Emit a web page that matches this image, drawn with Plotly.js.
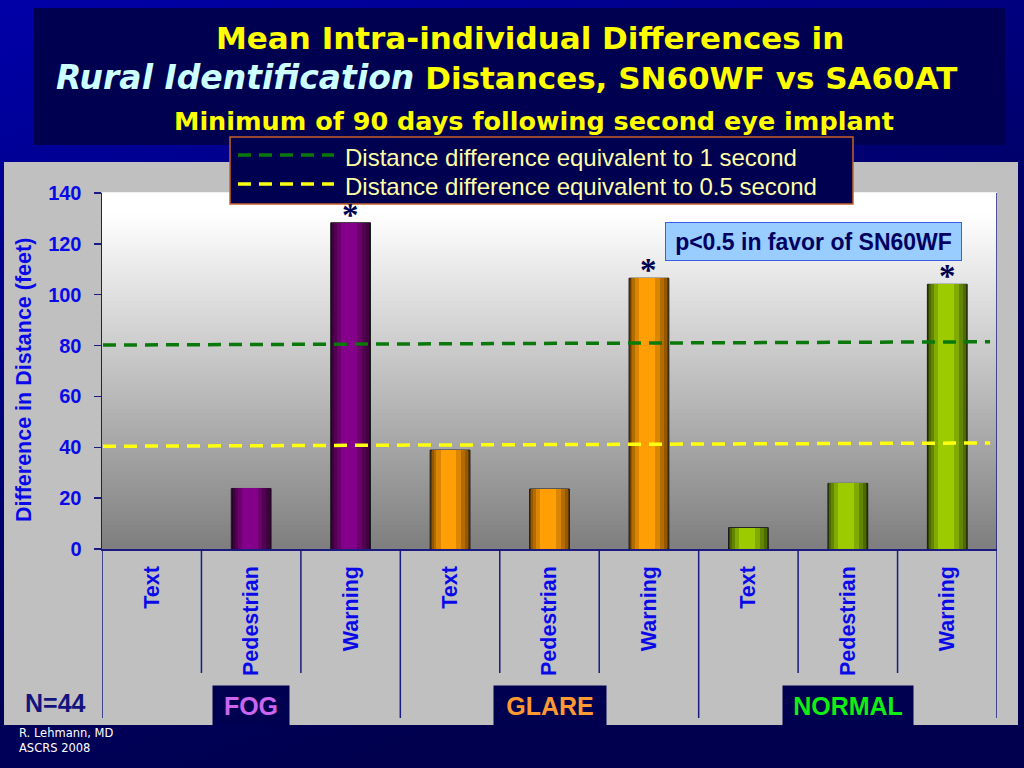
<!DOCTYPE html>
<html>
<head>
<meta charset="utf-8">
<script src="https://cdn.plot.ly/plotly-3.0.1.min.js"></script>
<style>
  html, body { margin: 0; padding: 0; }
  body { width: 1024px; height: 768px; overflow: hidden;
         background: linear-gradient(160deg, #0000a8 0%, #00008a 25%, #000060 55%, #00004e 80%); }
  #chart { width: 1024px; height: 768px; }
</style>
</head>
<body>
<div id="chart"></div>
<script>
// ---------------- data ----------------
const conditions = ['FOG', 'GLARE', 'NORMAL'];
const targets = ['Text', 'Pedestrian', 'Warning'];
const fogValues = [0, 23.8, 128.3];
const glareValues = [38.9, 23.6, 106.5];
const normalValues = [8.4, 25.8, 104.1];
const significantTargets = ['Warning'];          // marked with *
const oneSecondLine = [80.2, 81.5];               // start, end of the dashed reference
const halfSecondLine = [40.4, 41.7];
const lineNames = ['Distance difference equivalent to 1 second',
                   'Distance difference equivalent to 0.5 second'];
const yTitle = 'Difference in Distance (feet)';
const sampleSize = 'N=44';
const pNote = 'p&lt;0.5 in favor of SN60WF';
const credits = ['R. Lehmann, MD', 'ASCRS 2008'];

// ---------------- styling ----------------
const conditionColors = {
  FOG:    { edge: '#2a002a', mid: '#5c005c', bright: '#84008a', label: '#cc66ee' },
  GLARE:  { edge: '#6a3e00', mid: '#c47800', bright: '#ff9e05', label: '#ff9933' },
  NORMAL: { edge: '#324600', mid: '#6f9600', bright: '#9ccc00', label: '#11ee11' }
};
const lineColors = ['#0a780a', '#ffff10'];
const DASH = '13px,8px';
const AXIS = '#1a1a80';
const TICKBLUE = '#0a0ae8';
const SANS = 'Liberation Sans, Arial, sans-serif';
const TITLEFONT = 'DejaVu Sans, sans-serif';

// plot-area pixel frame (for decorations in paper units)
const PL = 102, PR = 997, PT = 193, PB = 549;
const X = px => (px - PL) / (PR - PL);
const Y = py => (PB - py) / (PB - PT);

// flatten the grouped data
const valuesByCond = [fogValues, glareValues, normalValues];
const xIdx = [], yVal = [], condOf = [], labels = [];
conditions.forEach((c, ci) => targets.forEach((t, ti) => {
  xIdx.push(ci * targets.length + ti);
  yVal.push(valuesByCond[ci][ti]);
  condOf.push(c);
  labels.push(t);
}));

function mix(a, b, t) {
  const pa = [1,3,5].map(i => parseInt(a.substr(i,2),16));
  const pb = [1,3,5].map(i => parseInt(b.substr(i,2),16));
  return 'rgb(' + pa.map((v,i) => Math.round(v + (pb[i]-v)*t)).join(',') + ')';
}

// cylinder-like shading: overlaid narrower bars
const layers = [
  { w: 0.40, shift: 0,     t: 0.0 },
  { w: 0.37, shift: 0,     t: 0.45 },
  { w: 0.32, shift: 0.006, t: 0.8 },
  { w: 0.25, shift: 0.012, t: 1.15 },
  { w: 0.16, shift: 0.016, t: 1.4 }
];
const traces = [];
layers.forEach((L, li) => {
  traces.push({
    type: 'bar',
    x: xIdx, y: yVal,
    width: xIdx.map(() => L.w),
    offset: xIdx.map(() => -L.w / 2 - L.shift),
    marker: {
      color: condOf.map(c => {
        const cc = conditionColors[c];
        return L.t <= 1 ? mix(cc.edge, cc.mid, L.t) : mix(cc.mid, cc.bright, (L.t - 1) / 0.4);
      }),
      line: li === 0 ? { color: '#1a1a1a', width: yVal.map(v => v > 0 ? 1 : 0) } : { width: 0 }
    },
    showlegend: false, hoverinfo: li === 0 ? 'x+y' : 'skip'
  });
});

const nCat = xIdx.length;
[oneSecondLine, halfSecondLine].forEach((ln, i) => {
  traces.push({
    type: 'scatter', mode: 'lines', name: lineNames[i], showlegend: false,
    x: [-0.5 + 0.01, nCat - 0.5 - 0.07], y: ln,
    line: { color: lineColors[i], width: 3.5, dash: DASH }
  });
});

// ---------------- decorations ----------------
const shapes = [];
// title box
shapes.push({ type: 'rect', xref: 'paper', yref: 'paper', layer: 'below',
  x0: X(34), x1: X(1005), y0: Y(145), y1: Y(8), fillcolor: '#000050', line: { width: 0 } });
// grey panel
shapes.push({ type: 'rect', xref: 'paper', yref: 'paper', layer: 'below',
  x0: X(4), x1: X(1018), y0: Y(725), y1: Y(162), fillcolor: '#c0c0c0', line: { width: 0 } });
// plot-area vertical gradient (white -> grey)
const NS = 89;
for (let k = 0; k < NS; k++) {
  const t = (k + 0.5) / NS; // 0 bottom -> 1 top
  shapes.push({ type: 'rect', xref: 'paper', yref: 'paper', layer: 'below',
    x0: 0, x1: 1, y0: k / NS, y1: (k + 1) / NS + 0.002,
    fillcolor: mix('#7e7e7e', '#ffffff', Math.min(1, t * 1.06)), line: { width: 0 } });
}
// category dividers below the axis
for (let b = 0; b <= nCat; b++) {
  const groupEdge = b % targets.length === 0;
  shapes.push({ type: 'line', xref: 'x', yref: 'paper', layer: 'above',
    x0: b - 0.5, x1: b - 0.5, y0: b === nCat ? 1 : 0, y1: groupEdge ? Y(718) : Y(673),
    line: { color: AXIS, width: 1.5 } });
}
// legend box (custom, to match the slide)
shapes.push({ type: 'rect', xref: 'paper', yref: 'paper', layer: 'above',
  x0: X(230), x1: X(853), y0: Y(204), y1: Y(137), fillcolor: '#000050',
  line: { color: '#c8602a', width: 1.5 } });
const legendRows = [155, 184];
legendRows.forEach((ry, i) => {
  shapes.push({ type: 'line', xref: 'paper', yref: 'paper', layer: 'above',
    x0: X(238), x1: X(334), y0: Y(ry), y1: Y(ry),
    line: { color: lineColors[i], width: 3.5, dash: DASH } });
});

const annotations = [];
const ann = o => annotations.push(Object.assign({ showarrow: false, xanchor: 'center', yanchor: 'middle' }, o));
// titles
ann({ xref: 'paper', yref: 'paper', x: X(530), y: Y(38),
  text: '<b>Mean Intra-individual Differences in</b>',
  font: { family: TITLEFONT, size: 31, color: '#ffff00' } });
ann({ xref: 'paper', yref: 'paper', x: X(506), y: Y(78),
  text: '<b><i><span style="color:#ccffff;font-size:33px">Rural Identification</span></i> Distances, SN60WF vs SA60AT</b>',
  font: { family: TITLEFONT, size: 31, color: '#ffff00' } });
ann({ xref: 'paper', yref: 'paper', x: X(534), y: Y(121),
  text: '<b>Minimum of 90 days following second eye implant</b>',
  font: { family: TITLEFONT, size: 25.5, color: '#ffff00' } });
// legend texts
legendRows.forEach((ry, i) => {
  ann({ xref: 'paper', yref: 'paper', x: X(343), y: Y(ry + 2), xanchor: 'left',
    text: lineNames[i], font: { family: SANS, size: 24, color: '#ffffa8' } });
});
// y axis title
ann({ xref: 'paper', yref: 'paper', x: X(24), y: Y(380), textangle: -90,
  text: '<b>' + yTitle + '</b>', font: { family: SANS, size: 21.5, color: TICKBLUE } });
// significance stars
xIdx.forEach((xi, i) => {
  if (significantTargets.includes(labels[i])) {
    ann({ xref: 'x', yref: 'y', x: xi, y: yVal[i], yanchor: 'bottom',
      yshift: -12, text: '<b>*</b>',
      font: { family: 'Liberation Serif, serif', size: 33, color: '#000050' } });
  }
});
// p note
ann({ xref: 'paper', yref: 'paper', x: X(813.5), y: Y(241.5),
  text: '<b>' + pNote + '</b>', bgcolor: '#99ccff', bordercolor: '#3a5ee8', borderwidth: 1,
  borderpad: 0, width: 295, height: 37, font: { family: SANS, size: 23, color: '#000060' } });
// group labels in navy tabs
conditions.forEach((c, ci) => {
  ann({ xref: 'x', yref: 'paper', x: ci * targets.length + 1, y: Y(726),
    yanchor: 'bottom', text: '<b>' + c + '</b>',
    width: c.length * 18 + 22, height: 39, borderpad: 0, bgcolor: '#000050',
    font: { family: SANS, size: 25, color: conditionColors[c].label } });
});
// N
ann({ xref: 'paper', yref: 'paper', x: X(55), y: Y(703),
  text: '<b>' + sampleSize + '</b>', font: { family: SANS, size: 25, color: '#14147e' } });
// credits
ann({ xref: 'paper', yref: 'paper', x: X(17), y: Y(724), xanchor: 'left', yanchor: 'top',
  align: 'left', text: credits.join('<br>'),
  font: { family: 'DejaVu Sans, sans-serif', size: 11.5, color: '#ffffff' } });

const layout = {
  width: 1024, height: 768,
  margin: { l: PL, r: 1024 - PR, t: PT, b: 768 - PB, pad: 0 },
  paper_bgcolor: 'rgba(0,0,0,0)', plot_bgcolor: 'rgba(0,0,0,0)',
  barmode: 'overlay', bargap: 0,
  showlegend: false,
  xaxis: {
    range: [-0.5, nCat - 0.5], tickmode: 'array', tickvals: xIdx, ticktext: labels,
    tickangle: -90, ticks: '', showgrid: false, zeroline: false,
    showline: true, linecolor: AXIS, linewidth: 1.5, ticklabelstandoff: 7,
    tickfont: { family: SANS, size: 21.5, color: TICKBLUE, weight: 'bold' },
    automargin: false, fixedrange: true
  },
  yaxis: {
    range: [0, 140], dtick: 20, tick0: 0, ticks: 'outside', ticklen: 7, tickcolor: AXIS,
    tickwidth: 1.5, showgrid: false, zeroline: false, showline: true, linecolor: AXIS,
    linewidth: 1.5, ticklabelstandoff: 8,
    tickfont: { family: SANS, size: 20, color: TICKBLUE, weight: 'bold' },
    automargin: false, fixedrange: true
  },
  shapes: shapes,
  annotations: annotations
};

Plotly.newPlot('chart', traces, layout, { displayModeBar: false, staticPlot: true });
</script>
</body>
</html>
